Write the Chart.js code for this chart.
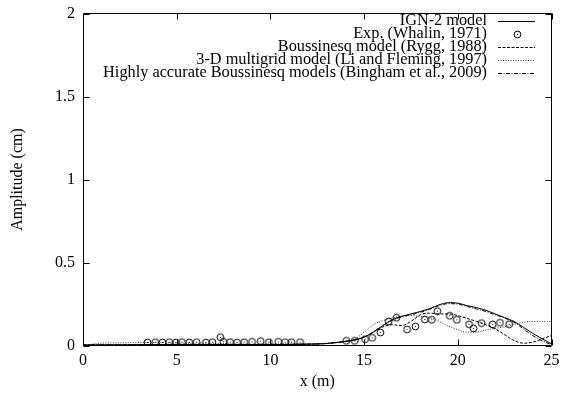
<!DOCTYPE html>
<html><head><meta charset="utf-8">
<script src="https://cdn.jsdelivr.net/npm/chart.js@4"></script>
<style>html,body{margin:0;padding:0;background:#fff}</style>
</head><body>
<canvas id="c" width="562" height="398"></canvas>
<script>
const xTicks = [0, 5, 10, 15, 20, 25];
const yTicks = [0, 0.5, 1, 1.5, 2];
const yTickLabels = ['0', '0.5', '1', '1.5', '2'];

const seriesLabels = [
  'IGN-2 model',
  'Exp. (Whalin, 1971)',
  'Boussinesq model (Rygg, 1988)',
  '3-D multigrid model (Li and Fleming, 1997)',
  'Highly accurate Boussinesq models (Bingham et al., 2009)'
];

const ignX = [0, 2, 4, 6, 8, 10, 12, 13, 14, 14.5, 15, 15.5, 16, 16.5, 17, 17.5, 18, 18.5, 19, 19.5, 20, 20.5, 21, 21.5, 22, 22.5, 23, 23.5, 24, 24.5, 25];
const ignY = [0.003, 0.004, 0.005, 0.005, 0.006, 0.006, 0.008, 0.012, 0.025, 0.035, 0.05, 0.082, 0.12, 0.155, 0.175, 0.19, 0.205, 0.222, 0.245, 0.258, 0.255, 0.24, 0.228, 0.212, 0.19, 0.168, 0.145, 0.11, 0.073, 0.04, 0.01];

const expX = [3.44, 3.85, 4.24, 4.6, 4.96, 5.28, 5.67, 6.06, 6.56, 6.91, 7.33, 7.49, 7.85, 8.22, 8.6, 9.02, 9.48, 9.92, 10.42, 10.78, 11.12, 11.58, 14.05, 14.5, 15.05, 15.43, 15.87, 16.31, 16.72, 17.29, 17.74, 18.24, 18.61, 18.91, 19.57, 19.95, 20.6, 20.84, 21.27, 21.86, 22.25, 22.74];
const expY = [0.018, 0.02, 0.018, 0.02, 0.018, 0.02, 0.018, 0.02, 0.018, 0.02, 0.05, 0.022, 0.02, 0.018, 0.02, 0.022, 0.026, 0.02, 0.022, 0.02, 0.02, 0.02, 0.028, 0.028, 0.038, 0.046, 0.078, 0.145, 0.167, 0.097, 0.115, 0.157, 0.155, 0.207, 0.179, 0.155, 0.128, 0.103, 0.135, 0.127, 0.137, 0.128];

const ryggX = [0, 2, 4, 6, 8, 10, 12, 13, 14, 14.5, 15, 15.5, 16, 16.5, 17, 17.5, 18, 18.5, 19, 19.5, 20, 20.5, 21, 21.5, 22, 22.5, 23, 23.5, 24, 24.5, 25];
const ryggY = [0.003, 0.004, 0.005, 0.005, 0.006, 0.006, 0.008, 0.012, 0.025, 0.033, 0.05, 0.08, 0.112, 0.125, 0.12, 0.145, 0.185, 0.195, 0.19, 0.19, 0.18, 0.163, 0.145, 0.125, 0.1, 0.065, 0.03, 0.014, 0.02, 0.04, 0.06];

const liX = [0, 0.5, 1, 2, 3, 4, 5, 6, 7, 8, 9, 10, 11, 12, 13, 14, 14.5, 15, 15.5, 16, 16.5, 17, 17.5, 18, 18.5, 19, 19.5, 20, 20.5, 21, 21.5, 22, 22.5, 23, 23.5, 24, 25];
const liY = [0.0, 0.008, 0.014, 0.016, 0.018, 0.018, 0.015, 0.014, 0.013, 0.01, 0.008, 0.01, 0.01, 0.01, 0.014, 0.022, 0.038, 0.08, 0.125, 0.15, 0.165, 0.178, 0.18, 0.175, 0.168, 0.145, 0.118, 0.095, 0.08, 0.08, 0.093, 0.103, 0.113, 0.128, 0.14, 0.145, 0.145];

const binghamX = [0, 2, 4, 6, 8, 10, 12, 13, 14, 14.5, 15, 15.5, 16, 16.5, 17, 17.5, 18, 18.5, 19, 19.5, 20, 20.5, 21, 21.5, 22, 22.5, 23, 23.5, 24, 24.5, 25];
const binghamY = [0.003, 0.004, 0.005, 0.005, 0.006, 0.006, 0.008, 0.012, 0.025, 0.032, 0.05, 0.082, 0.12, 0.152, 0.172, 0.185, 0.2, 0.218, 0.24, 0.252, 0.25, 0.235, 0.22, 0.205, 0.185, 0.165, 0.14, 0.1, 0.06, 0.028, 0.005];

const toPts = (xs, ys) => xs.map((x, i) => ({ x: x, y: ys[i] }));

const FAMILY = '"Liberation Serif", "Times New Roman", serif';
const FONT = { family: FAMILY, size: 16 };
const KEY_FONT_CSS = '16.3px ' + FAMILY;

function makeMarker() {
  const c = document.createElement('canvas');
  c.width = 9; c.height = 9;
  const g = c.getContext('2d');
  g.strokeStyle = '#000'; g.lineWidth = 1;
  g.beginPath(); g.arc(4.5, 4.5, 3.4, 0, Math.PI * 2); g.stroke();
  g.fillStyle = '#000'; g.fillRect(4, 4, 1, 1);
  return c;
}
const marker = makeMarker();

const lineBase = { showLine: true, pointRadius: 0, borderColor: '#000', borderWidth: 1, fill: false, tension: 0.4, cubicInterpolationMode: 'monotone' };

const datasets = [
  Object.assign({}, lineBase, { label: seriesLabels[0], data: toPts(ignX, ignY), borderDash: [] }),
  { label: seriesLabels[1], data: toPts(expX, expY), showLine: false, pointStyle: marker, pointRadius: 4, borderColor: '#000' },
  Object.assign({}, lineBase, { label: seriesLabels[2], data: toPts(ryggX, ryggY), borderDash: [3, 1.5] }),
  Object.assign({}, lineBase, { label: seriesLabels[3], data: toPts(liX, liY), borderDash: [1, 1.5], borderColor: '#333' }),
  Object.assign({}, lineBase, { label: seriesLabels[4], data: toPts(binghamX, binghamY), borderDash: [4, 1.5, 1, 1.5] })
];

const framePlugin = {
  id: 'frame',
  afterDatasetsDraw(chart) {
    const { ctx, chartArea: a, scales } = chart;
    ctx.save();
    ctx.strokeStyle = '#000'; ctx.lineWidth = 1;
    const L = Math.floor(a.left) + 0.5, R = Math.floor(a.right) + 0.5;
    const T = Math.floor(a.top) + 0.5, B = Math.floor(a.bottom) + 0.5;
    ctx.beginPath();
    ctx.rect(L, T, R - L, B - T);
    const tl = 6;
    xTicks.forEach(v => {
      const px = Math.round(scales.x.getPixelForValue(v)) + 0.5;
      ctx.moveTo(px, B); ctx.lineTo(px, B - tl);
      ctx.moveTo(px, T); ctx.lineTo(px, T + tl);
    });
    yTicks.forEach(v => {
      const py = Math.round(scales.y.getPixelForValue(v)) + 0.5;
      ctx.moveTo(L, py); ctx.lineTo(L + tl, py);
      ctx.moveTo(R, py); ctx.lineTo(R - tl, py);
    });
    ctx.stroke();

    // gnuplot-style key
    ctx.font = KEY_FONT_CSS;
    ctx.fillStyle = '#000';
    ctx.textAlign = 'right';
    ctx.textBaseline = 'middle';
    const textRight = 487, s0 = 498, s1 = 535, y0 = 20.5, dy = 13.1;
    chart.data.datasets.forEach((ds, i) => {
      const y = y0 + i * dy;
      ctx.fillText(ds.label, textRight, y);
      if (ds.showLine === false) {
        ctx.drawImage(marker, Math.round((s0 + s1) / 2) - 4, Math.round(y) - 4);
      } else {
        ctx.save();
        ctx.strokeStyle = ds.borderColor;
        ctx.setLineDash(ds.borderDash || []);
        ctx.beginPath();
        ctx.moveTo(s0, Math.round(y) + 0.5); ctx.lineTo(s1, Math.round(y) + 0.5);
        ctx.stroke();
        ctx.restore();
      }
    });
    ctx.restore();
  }
};

new Chart(document.getElementById('c'), {
  type: 'scatter',
  data: { datasets: datasets },
  options: {
    responsive: false, animation: false, devicePixelRatio: 1,
    layout: { padding: { top: 13.5, right: 10.5, left: 0, bottom: 0 } },
    plugins: { legend: { display: false }, tooltip: { enabled: false } },
    scales: {
      x: {
        type: 'linear', min: 0, max: 25,
        afterBuildTicks: s => { s.ticks = xTicks.map(v => ({ value: v })); },
        afterFit: s => { s.height = 52.5; s.paddingLeft = 0; s.paddingRight = 0; },
        grid: { display: false, drawTicks: false },
        border: { display: false },
        ticks: { font: FONT, color: '#000', padding: 6, maxRotation: 0, callback: v => String(v) },
        title: { display: true, text: 'x (m)', font: FONT, color: '#000', padding: { top: 0, bottom: 7 } }
      },
      y: {
        type: 'linear', min: 0, max: 2,
        afterBuildTicks: s => { s.ticks = yTicks.map(v => ({ value: v })); },
        afterFit: s => { s.width = 83; s.paddingTop = 0; s.paddingBottom = 0; },
        grid: { display: false, drawTicks: false },
        border: { display: false },
        ticks: { font: FONT, color: '#000', padding: 8, callback: (v) => yTickLabels[yTicks.indexOf(v)] },
        title: { display: true, text: 'Amplitude (cm)', font: FONT, color: '#000', padding: { top: 8, bottom: 0 } }
      }
    }
  },
  plugins: [framePlugin]
});
</script>
</body></html>
